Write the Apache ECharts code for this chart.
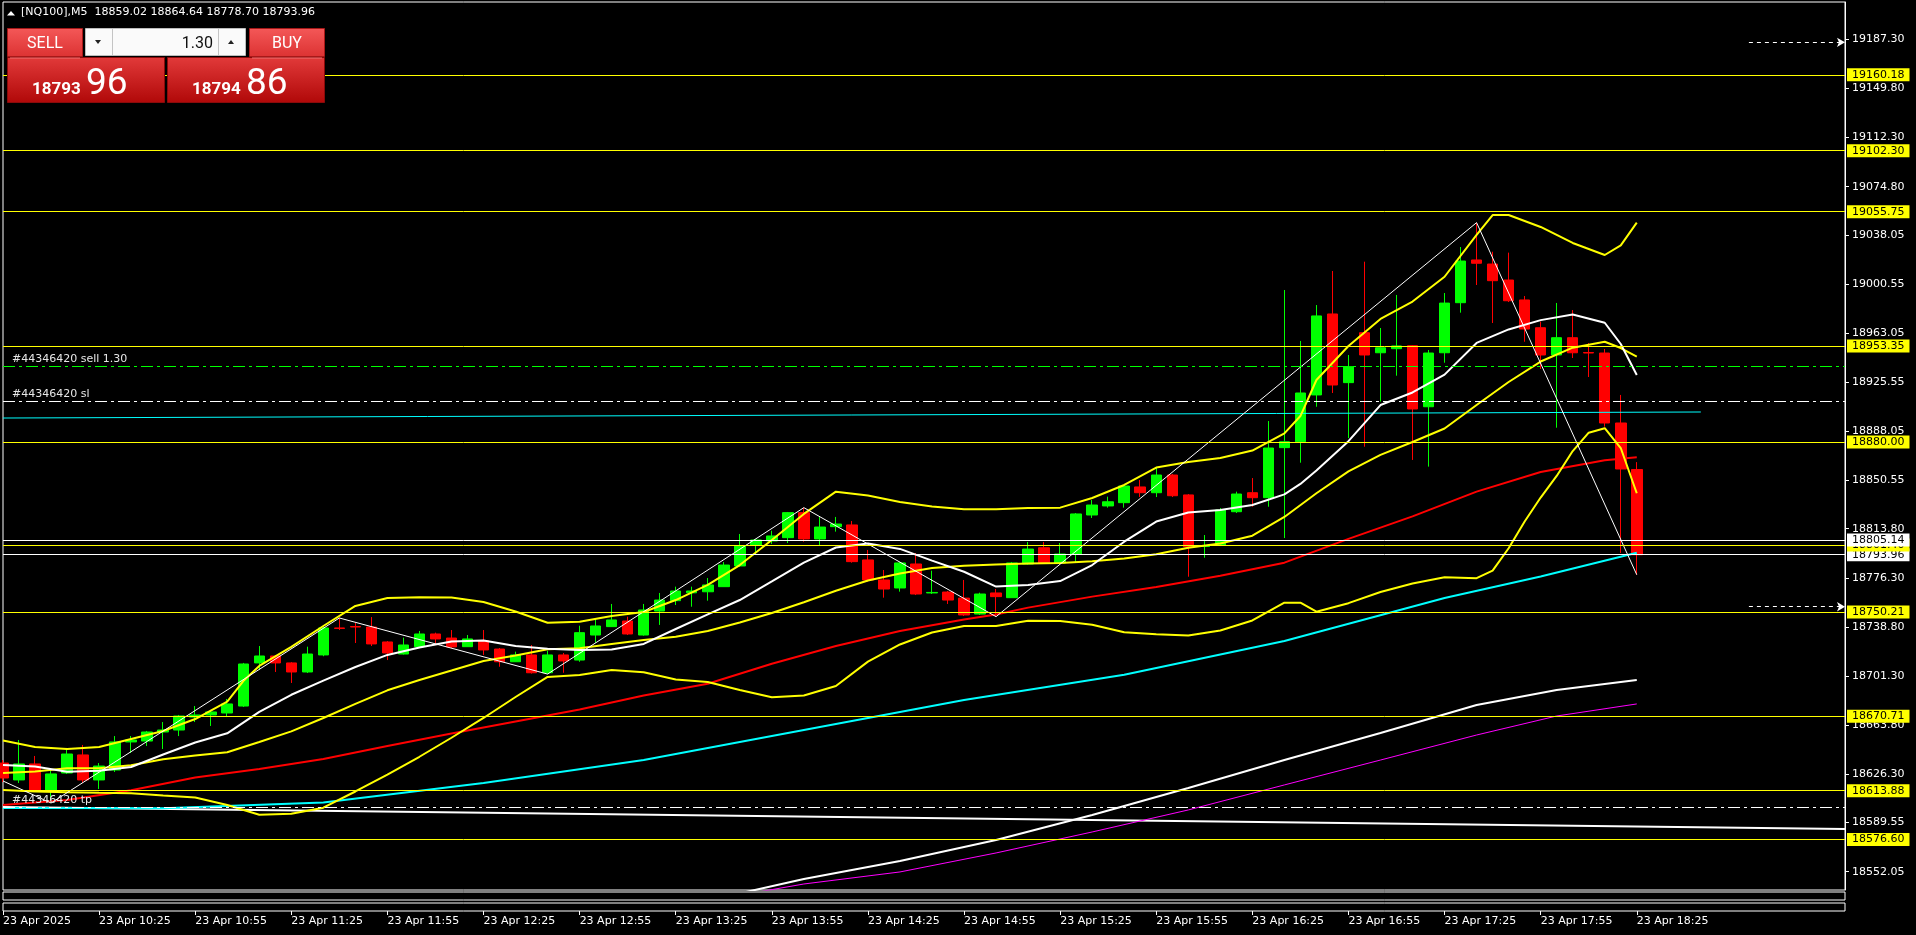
<!DOCTYPE html>
<html><head><meta charset="utf-8">
<script src="https://cdn.jsdelivr.net/npm/echarts/dist/echarts.min.js"></script>
<style>html,body{margin:0;padding:0;background:#000;overflow:hidden}#c{width:1916px;height:935px}</style>
</head><body><div id="c"></div>
<script>
// ---------- DATA ----------
const openP  = [18635.0,18622.1,18634.3,18614.4,18627.4,18641.2,18622.1,18629.7,18651.1,18651.8,18658.7,18660.2,18670.1,18671.7,18673.2,18678.5,18711.4,18716.7,18711.4,18704.5,18717.5,18738.1,18739.2,18738.8,18727.4,18718.2,18723.8,18733.5,18730.4,18723.8,18728.4,18722.0,18712.3,18717.5,18703.9,18717.5,18713.6,18732.7,18739.1,18743.4,18732.7,18751.0,18758.9,18764.9,18765.7,18769.6,18785.4,18801.4,18804.5,18807.0,18826.1,18806.0,18815.4,18816.7,18790.0,18774.7,18768.6,18786.9,18764.8,18765.5,18760.9,18748.7,18764.8,18761.2,18786.9,18799.3,18787.7,18794.5,18824.3,18831.2,18833.7,18845.7,18841.3,18854.8,18839.6,18800.3,18801.4,18826.8,18841.3,18837.5,18875.7,18880.2,18915.9,18977.7,18925.3,18963.4,18948.1,18951.2,18953.5,18906.9,18948.1,18986.3,19018.9,19015.8,19003.6,18988.4,18967.2,18946.4,18959.6,18948.3,18947.9,18894.5,18859.02];
const highP  = [18637.3,18652.6,18640.4,18631.2,18646.5,18648.8,18635.0,18655.6,18655.6,18659.5,18666.3,18671.7,18678.5,18675.5,18683.9,18711.4,18724.3,18717.5,18712.0,18723.8,18738.8,18745.7,18741.9,18746.4,18728.1,18730.7,18735.8,18734.5,18736.5,18732.7,18736.5,18722.8,18720.0,18725.1,18720.7,18719.0,18739.8,18744.9,18756.4,18746.7,18756.4,18764.8,18769.6,18769.6,18776.2,18788.4,18809.8,18806.0,18812.3,18826.6,18829.9,18823.0,18822.8,18819.7,18797.6,18782.3,18788.4,18795.3,18781.8,18766.3,18774.7,18765.0,18767.8,18788.4,18803.7,18803.7,18802.9,18825.8,18835.7,18838.3,18847.2,18851.0,18860.2,18855.6,18840.3,18809.0,18829.6,18842.1,18852.5,18896.0,18996.0,18957.1,18984.5,19010.5,18946.4,19017.6,18967.0,18992.2,18954.0,18950.2,18993.7,19028.8,19047.4,19025.2,19024.5,18991.4,18971.8,18986.1,18980.7,18955.5,18951.0,18915.9,18864.64];
const lowP   = [18620.6,18619.8,18612.9,18604.5,18626.7,18619.8,18615.2,18628.2,18642.7,18648.0,18645.7,18655.6,18666.3,18663.3,18670.1,18677.8,18706.0,18704.5,18696.1,18703.7,18716.5,18736.5,18726.6,18724.3,18713.6,18717.8,18723.6,18725.9,18722.8,18723.6,18717.5,18708.5,18712.1,18703.3,18702.9,18703.9,18712.3,18726.8,18738.8,18732.7,18732.2,18740.4,18755.6,18754.3,18758.9,18769.4,18785.0,18794.5,18802.2,18802.9,18803.9,18801.4,18811.6,18787.9,18773.4,18761.2,18765.8,18763.2,18764.0,18756.4,18747.2,18748.0,18746.7,18761.0,18786.5,18787.3,18787.3,18787.7,18822.0,18829.9,18829.9,18838.0,18838.0,18838.0,18777.2,18791.7,18800.6,18825.8,18830.6,18830.6,18806.7,18864.2,18906.9,18917.4,18883.0,18876.4,18910.8,18930.6,18866.3,18861.2,18940.5,18978.7,18999.8,18970.8,18986.8,18956.5,18935.7,18890.9,18944.1,18929.6,18891.7,18795.3,18778.70];
const closeP = [18623.6,18634.3,18614.4,18626.7,18641.9,18622.1,18632.7,18651.1,18652.6,18658.7,18660.2,18670.9,18671.7,18674.0,18680.1,18710.6,18716.7,18711.4,18704.5,18718.2,18738.1,18737.7,18738.8,18725.9,18719.0,18725.1,18733.5,18729.7,18723.6,18729.7,18721.3,18712.3,18717.5,18703.9,18717.5,18712.9,18734.5,18739.6,18744.2,18733.5,18751.8,18759.4,18766.3,18766.3,18770.9,18786.1,18800.6,18805.2,18808.3,18826.1,18806.0,18815.1,18817.4,18788.7,18774.7,18767.8,18787.7,18764.0,18765.2,18759.4,18748.0,18764.0,18762.0,18787.7,18798.3,18787.7,18794.5,18825.1,18831.9,18834.4,18846.4,18841.3,18854.8,18839.0,18800.1,18800.6,18828.1,18840.3,18837.5,18875.4,18880.2,18917.4,18976.2,18923.5,18937.5,18946.4,18951.9,18953.3,18905.2,18947.9,18986.0,19018.1,19016.4,19003.1,18987.8,18966.2,18946.4,18959.6,18948.1,18947.9,18894.5,18859.4,18793.96];

// indicator lines: [bar index, price]
const bbUpper = [[0,18652.2],[2,18647.3],[4,18645.7],[6,18647.3],[8,18653.4],[10,18659.5],[12,18668.6],[14,18681.8],[15,18697.6],[16,18709.1],[18,18723.6],[20,18739.6],[22,18754.9],[24,18761.0],[26,18761.5],[28,18761.3],[30,18757.9],[32,18750.7],[34,18742.1],[36,18742.9],[38,18747.2],[40,18750.3],[42,18759.4],[44,18770.9],[46,18786.1],[48,18805.2],[50,18825.1],[52,18842.1],[54,18839.2],[56,18834.2],[58,18830.8],[60,18828.6],[62,18828.6],[64,18829.6],[66,18829.9],[68,18837.3],[70,18847.2],[72,18860.5],[74,18864.7],[76,18867.8],[78,18873.5],[80,18886.6],[81,18899.8],[82,18927.3],[84,18953.3],[86,18973.9],[88,18987.2],[90,19006.1],[92,19038.0],[93,19053.2],[94,19053.2],[96,19044.1],[98,19031.9],[100,19022.7],[101,19030.0],[102,19047.4]];
const bbMiddle = [[0,18627.4],[2,18628.6],[4,18631.0],[6,18631.0],[8,18633.4],[10,18637.9],[12,18640.8],[14,18643.2],[16,18651.1],[18,18659.2],[20,18669.4],[22,18680.1],[24,18690.5],[26,18698.4],[28,18705.6],[30,18712.9],[32,18717.0],[34,18721.8],[36,18722.6],[38,18725.9],[40,18728.9],[42,18731.3],[44,18735.8],[46,18742.3],[48,18749.5],[50,18757.7],[52,18766.5],[54,18774.3],[56,18779.7],[58,18783.9],[60,18785.5],[62,18786.5],[64,18787.2],[66,18787.7],[68,18789.0],[70,18791.1],[72,18794.4],[74,18799.3],[76,18802.5],[78,18808.5],[80,18822.8],[82,18840.9],[84,18857.6],[86,18870.2],[88,18880.0],[90,18890.3],[92,18908.2],[94,18925.8],[96,18941.4],[98,18952.0],[100,18956.5],[101,18951.7],[102,18945.1]];
const bbLower = [[0,18614.4],[2,18613.2],[4,18612.8],[6,18612.3],[8,18612.0],[10,18610.2],[12,18608.7],[14,18603.0],[16,18595.6],[18,18596.3],[20,18600.9],[22,18613.3],[24,18626.2],[26,18639.8],[28,18654.3],[30,18669.4],[32,18685.4],[34,18700.7],[36,18702.2],[38,18706.0],[40,18704.3],[42,18698.7],[44,18696.9],[46,18690.8],[48,18685.2],[50,18686.6],[52,18693.8],[54,18712.4],[56,18725.5],[58,18734.6],[60,18739.6],[62,18739.6],[64,18743.6],[66,18743.4],[68,18740.5],[70,18734.8],[72,18733.3],[74,18732.3],[76,18736.2],[78,18743.8],[80,18757.4],[81,18757.4],[82,18750.5],[84,18757.0],[86,18765.5],[88,18772.0],[90,18776.8],[92,18776.1],[93,18781.9],[94,18798.9],[95,18819.3],[96,18837.6],[97,18854.1],[98,18873.1],[99,18887.1],[100,18890.5],[101,18875.4],[102,18840.9]];
const maFast = [[0,18633.5],[2,18632.3],[4,18628.4],[6,18629.2],[8,18632.0],[10,18641.5],[12,18650.7],[14,18657.7],[16,18674.0],[18,18687.1],[20,18697.9],[22,18708.3],[24,18717.5],[26,18723.2],[28,18727.8],[30,18728.6],[32,18724.3],[34,18722.3],[36,18721.3],[38,18721.7],[40,18725.9],[42,18737.3],[44,18748.4],[46,18759.4],[48,18773.6],[50,18788.0],[52,18799.5],[54,18802.5],[56,18798.4],[58,18789.5],[60,18781.0],[62,18769.7],[64,18770.9],[66,18773.9],[68,18786.1],[70,18803.9],[72,18819.3],[74,18826.2],[76,18828.1],[78,18831.9],[80,18840.0],[81,18848.0],[82,18858.3],[84,18880.6],[86,18908.2],[88,18917.8],[90,18931.4],[92,18955.6],[94,18965.9],[96,18973.0],[98,18977.3],[100,18971.0],[101,18954.8],[102,18931.1]];
const maRed = [[0,18603.0],[4,18606.8],[8,18614.2],[12,18624.0],[16,18630.5],[20,18638.1],[24,18648.0],[28,18657.6],[32,18666.7],[36,18675.9],[40,18686.6],[44,18695.5],[48,18710.8],[52,18724.3],[56,18735.8],[60,18744.6],[62,18748.3],[64,18753.6],[68,18762.0],[72,18769.4],[76,18777.9],[80,18787.9],[84,18806.1],[88,18823.2],[92,18842.1],[96,18857.1],[100,18866.0],[102,18868.3]];
const maCyan = [[0,18600.7],[10,18600.5],[20,18604.9],[30,18619.8],[40,18637.3],[50,18660.2],[60,18683.1],[70,18702.4],[80,18728.1],[90,18761.0],[96,18777.4],[102,18795.5]];
const maSlowWhite = [[45,18532.8],[50,18546.5],[56,18560.3],[62,18576.3],[68,18595.4],[74,18616.0],[80,18637.3],[86,18657.9],[92,18679.3],[97,18690.8],[102,18698.4]];
const maMagenta = [[45,18532.0],[50,18542.7],[56,18551.9],[62,18566.4],[68,18582.4],[74,18599.2],[80,18618.3],[86,18637.3],[92,18656.4],[97,18670.9],[102,18680.1]];
const zigzag = [[0,18621.3],[3,18604.5],[21,18745.7],[34,18702.9],[50,18829.9],[62,18746.7],[92,19047.4],[102,18778.7]];
const trendWhite = [[0,18601.5],[115,18584.7]];
const trendCyan = [[0,18898.3],[106,18902.9]];

const yellowLevels = [19160.18,19102.30,19055.75,18953.35,18880.00,18750.21,18670.71,18613.88,18576.60];
const bidPrice = 18793.96, hiddenLevel = 18801.40, whiteLevel = 18805.14;
const sellPrice = 18938.0, slPrice = 18911.3, tpPrice = 18601.5;
const alertLevels = [19185.0, 18754.3];

const yTicks = [19187.30,19149.80,19112.30,19074.80,19038.05,19000.55,18963.05,18925.55,18888.05,18850.55,18813.80,18776.30,18738.80,18701.30,18663.80,18626.30,18589.55,18552.05];
const xTickLabels = ['23 Apr 2025','23 Apr 10:25','23 Apr 10:55','23 Apr 11:25','23 Apr 11:55','23 Apr 12:25','23 Apr 12:55','23 Apr 13:25','23 Apr 13:55','23 Apr 14:25','23 Apr 14:55','23 Apr 15:25','23 Apr 15:55','23 Apr 16:25','23 Apr 16:55','23 Apr 17:25','23 Apr 17:55','23 Apr 18:25'];
const header = '[NQ100],M5  18859.02 18864.64 18778.70 18793.96';
const lotText = '1.30', sellBig = ['18793','96'], buyBig = ['18794','86'];

// ---------- CHART ----------
const N_CAT = 116, TICK_STEP = 6;
const cats = [];
for (let i = 0; i < N_CAT; i++) { const m = 9*60+55+5*i; cats.push(String(Math.floor(m/60)).padStart(2,'0')+':'+String(m%60).padStart(2,'0')); }
const FONT = 'DejaVu Sans';
const YMIN = 18538.12, YMAX = 19215.77;
const candles = openP.map((o,i)=>[o, closeP[i], lowP[i], highP[i]]);
const isTick = (i)=> i % TICK_STEP === 0 && (i / TICK_STEP) < xTickLabels.length;

function lineSeries(data, color, width, z){
  return {type:'line', xAxisIndex:0, yAxisIndex:0, data, showSymbol:false, symbol:'none', smooth:false,
    lineStyle:{color, width}, z: z||3, silent:true};
}
function levelItem(v, color, boxColor, textColor){
  return {yAxis:v, lineStyle:{color, width:1, type:'solid'},
    label:{show:true, position:'end', distance:2, formatter:()=>v.toFixed(2), backgroundColor:boxColor, color:textColor,
      padding:[1,5,0,5], fontSize:11, fontFamily:FONT, lineHeight:12}};
}
function orderItem(v, color, text){
  return {yAxis:v, lineStyle:{color, width:1, type:[12,4,3,4]},
    label:{show:true, position:'insideStartTop', distance:1, formatter:text, color:'#e6e6e6', fontSize:11, fontFamily:FONT, padding:[0,0,0,8]}};
}
const markData = [];
yellowLevels.forEach(v=>markData.push(levelItem(v,'#ffff00','#ffff00','#000')));
markData.push(orderItem(sellPrice,'#00ff00','#44346420 sell 1.30'));
markData.push(orderItem(slPrice,'#ffffff','#44346420 sl'));
markData.push(orderItem(tpPrice,'#ffffff','#44346420 tp'));
markData.push(levelItem(bidPrice,'#ffffff','#ffffff','#000'));
markData.push(levelItem(hiddenLevel,'#ffff00','#ffff00','#000'));
markData.push(levelItem(whiteLevel,'#ffffff','#ffffff','#000'));
alertLevels.forEach(v=>markData.push([
  {coord:[cats[109], v], symbol:'none', lineStyle:{color:'#fff', width:1, type:[4,4]}, label:{show:false}},
  {coord:[cats[115], v], symbol:'arrow', symbolSize:[7,8]}
]));

const btnGrad = ()=> new echarts.graphic.LinearGradient(0,0,0,1,[{offset:0,color:'#f45858'},{offset:1,color:'#dc3232'}]);
const bigGrad = ()=> new echarts.graphic.LinearGradient(0,0,0,1,[{offset:0,color:'#e23a3a'},{offset:1,color:'#b00808'}]);

const option = {
  backgroundColor:'#000', animation:false,
  textStyle:{fontFamily:FONT},
  grid:[
    {left:3, top:2, width:1842, height:888, show:true, borderColor:'#fff', borderWidth:1},
    {left:3, top:892, width:1842, height:8, show:true, borderColor:'#fff', borderWidth:1},
    {left:3, top:903, width:1842, height:8, show:true, borderColor:'#fff', borderWidth:1}
  ],
  xAxis:[
    {gridIndex:0, type:'category', data:cats, boundaryGap:false, axisLine:{show:false}, axisTick:{show:false}, axisLabel:{show:false}, splitLine:{show:false}},
    {gridIndex:1, type:'category', data:cats, boundaryGap:false, show:false},
    {gridIndex:2, type:'category', data:cats, boundaryGap:false, axisLine:{show:false},
      axisTick:{show:true, length:4, interval:(i)=>isTick(i), lineStyle:{color:'#fff'}},
      axisLabel:{show:true, interval:(i)=>isTick(i), formatter:(v,i)=> isTick(i) ? xTickLabels[i/TICK_STEP] : '', align:'left', color:'#fff', fontFamily:FONT, fontSize:11, margin:5},
      splitLine:{show:false}}
  ],
  yAxis:[
    {gridIndex:0, type:'value', position:'right', min:YMIN, max:YMAX, scale:true,
      axisLine:{show:true, lineStyle:{color:'#fff'}},
      axisTick:{show:true, length:4, customValues:yTicks, lineStyle:{color:'#fff'}},
      axisLabel:{customValues:yTicks, formatter:(v)=>v.toFixed(2), color:'#fff', fontFamily:FONT, fontSize:11, margin:7},
      splitLine:{show:false}},
    {gridIndex:1, type:'value', show:false},
    {gridIndex:2, type:'value', show:false}
  ],
  series:[
    {type:'candlestick', xAxisIndex:0, yAxisIndex:0, data:candles, barWidth:11, z:2, silent:true,
      itemStyle:{color:'#00ff00', color0:'#ff0000', borderColor:'#00ff00', borderColor0:'#ff0000', borderWidth:1}},
    lineSeries(trendCyan,'#00ffff',1,3),
    lineSeries(trendWhite,'#ffffff',2,3),
    lineSeries(maMagenta,'#ff00ff',1,3),
    lineSeries(maSlowWhite,'#ffffff',2,3),
    lineSeries(maCyan,'#00ffff',2,3),
    lineSeries(maRed,'#ff0000',2,3),
    lineSeries(bbLower,'#ffff00',2,3),
    lineSeries(bbUpper,'#ffff00',2,3),
    lineSeries(bbMiddle,'#ffff00',2,3),
    lineSeries(maFast,'#ffffff',2,3),
    lineSeries(zigzag,'#ffffff',1,4),
    {type:'line', xAxisIndex:0, yAxisIndex:0, data:[], z:5, silent:true,
      markLine:{silent:true, symbol:['none','none'], animation:false, data:markData}}
  ],
  graphic:[
    {type:'polygon', z:100, shape:{points:[[7,15.5],[11,11],[15,15.5]]}, style:{fill:'#fff'}},
    {type:'text', z:100, x:21, y:12.5, style:{text:header, fill:'#fff', font:'11px "DejaVu Sans"', align:'left', verticalAlign:'middle'}},
    {type:'rect', z:100, shape:{x:7.5,y:28.5,width:75,height:28}, style:{fill:btnGrad(), stroke:'#a81818', lineWidth:1}},
    {type:'rect', z:100, shape:{x:249.5,y:28.5,width:75,height:28}, style:{fill:btnGrad(), stroke:'#a81818', lineWidth:1}},
    {type:'text', z:101, x:45, y:44, style:{text:'SELL', fill:'#fff', font:'16px Roboto', align:'center', verticalAlign:'middle'}},
    {type:'text', z:101, x:287, y:44, style:{text:'BUY', fill:'#fff', font:'16px Roboto', align:'center', verticalAlign:'middle'}},
    {type:'rect', z:100, shape:{x:85.5,y:28.5,width:160,height:27}, style:{fill:'#fafafa', stroke:'#bcbcbc', lineWidth:1}},
    {type:'line', z:101, shape:{x1:112.5,y1:29,x2:112.5,y2:55}, style:{stroke:'#c4c4c4', lineWidth:1}},
    {type:'line', z:101, shape:{x1:218.5,y1:29,x2:218.5,y2:55}, style:{stroke:'#c4c4c4', lineWidth:1}},
    {type:'polygon', z:101, shape:{points:[[95,40],[101,40],[98,44]]}, style:{fill:'#222'}},
    {type:'polygon', z:101, shape:{points:[[228,44],[234,44],[231,40]]}, style:{fill:'#222'}},
    {type:'text', z:101, x:213, y:44, style:{text:lotText, fill:'#111', font:'16px Roboto', align:'right', verticalAlign:'middle'}},
    {type:'rect', z:100, shape:{x:7.5,y:57.5,width:157,height:45}, style:{fill:bigGrad(), stroke:'#8a0a0a', lineWidth:1}},
    {type:'rect', z:100, shape:{x:167.5,y:57.5,width:157,height:45}, style:{fill:bigGrad(), stroke:'#8a0a0a', lineWidth:1}},
    {type:'line', z:101, shape:{x1:10,y1:58,x2:80,y2:58}, style:{stroke:'#f07070', lineWidth:1}},
    {type:'line', z:101, shape:{x1:252,y1:58,x2:322,y2:58}, style:{stroke:'#f07070', lineWidth:1}},
    {type:'text', z:101, x:32, y:90, style:{text:sellBig[0], fill:'#fff', font:'bold 17px Roboto', align:'left', verticalAlign:'middle'}},
    {type:'text', z:101, x:86, y:85, style:{text:sellBig[1], fill:'#fff', font:'37px Roboto', align:'left', verticalAlign:'middle'}},
    {type:'text', z:101, x:192, y:90, style:{text:buyBig[0], fill:'#fff', font:'bold 17px Roboto', align:'left', verticalAlign:'middle'}},
    {type:'text', z:101, x:246, y:85, style:{text:buyBig[1], fill:'#fff', font:'37px Roboto', align:'left', verticalAlign:'middle'}}
  ]
};
const chart = echarts.init(document.getElementById('c'));
chart.setOption(option);
</script>
</body></html>
